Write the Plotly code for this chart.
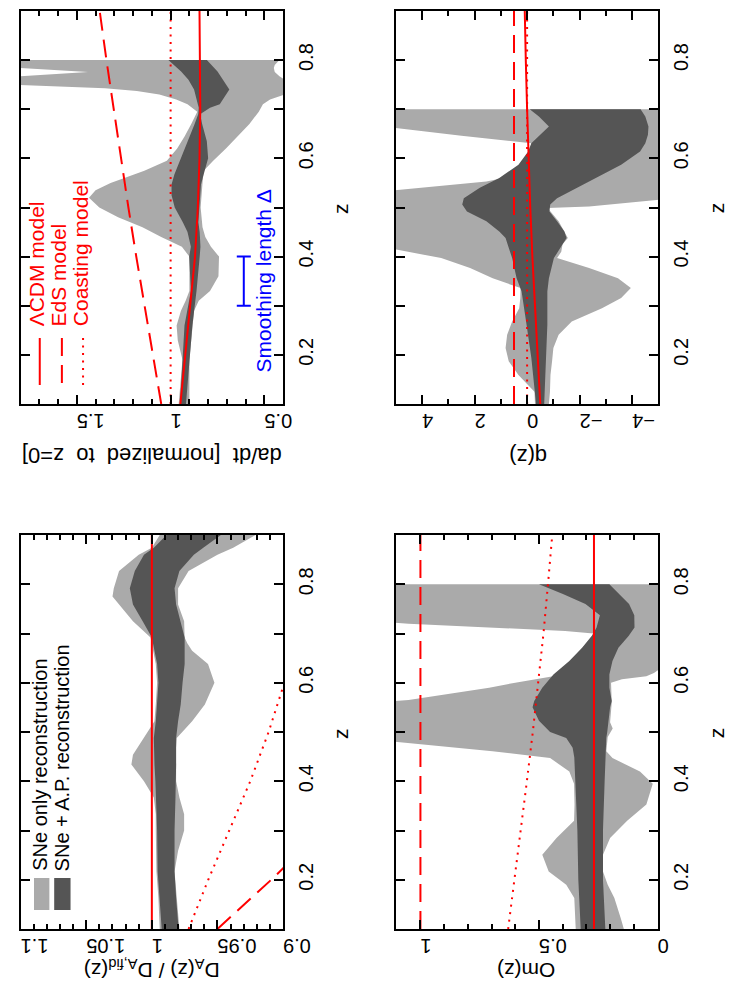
import plotly.graph_objects as go

W, H = 741, 982
FONT = "Liberation Sans, Arial, Helvetica, sans-serif"
LIGHT = "#aaaaaa"
DARK = "#555555"
RED = "#ff0000"
BLUE = "#0000ff"

# ---------------- da/dt panel ----------------
z_adot_sn = [0.10, 0.15, 0.19, 0.23, 0.26, 0.29, 0.31, 0.33, 0.36, 0.40, 0.42, 0.44, 0.46, 0.48,
             0.50, 0.52, 0.535, 0.55, 0.575, 0.595, 0.62, 0.645, 0.67, 0.695, 0.71, 0.72, 0.73,
             0.737, 0.743, 0.748, 0.755, 0.767, 0.776, 0.784, 0.79, 0.80]
adot_sn_hi = [0.957, 0.945, 0.937, 0.962, 0.968, 0.945, 0.92, 0.90, 0.90, 0.90, 0.94, 1.05, 1.15,
              1.28, 1.38, 1.435, 1.40, 1.32, 1.14, 1.02, 0.965, 0.925, 0.89, 0.858, 0.91, 0.97,
              1.06, 1.18, 1.35, 1.90, 2.20, 1.80, 1.44, 1.80, 2.20, 2.20]
adot_sn_lo = [0.90, 0.90, 0.90, 0.89, 0.884, 0.875, 0.85, 0.79, 0.745, 0.742, 0.785, 0.815, 0.83,
              0.835, 0.84, 0.835, 0.832, 0.83, 0.824, 0.773, 0.705, 0.64, 0.58, 0.53, 0.508, 0.47,
              0.39, 0.36, 0.35, 0.35, 0.37, 0.42, 0.445, 0.45, 0.445, 0.42]
z_adot_ap = [0.10, 0.19, 0.26, 0.33, 0.40, 0.42, 0.45, 0.47, 0.50, 0.525, 0.547, 0.567, 0.60,
             0.635, 0.67, 0.69, 0.703, 0.71, 0.74, 0.76, 0.777, 0.80]
adot_ap_hi = [0.950, 0.935, 0.926, 0.892, 0.901, 0.892, 0.91, 0.935, 0.978, 0.995, 0.995, 0.98,
              0.944, 0.909, 0.872, 0.853, 0.85, 0.855, 0.875, 0.905, 0.944, 1.012]
adot_ap_lo = [0.918, 0.90, 0.884, 0.862, 0.845, 0.841, 0.845, 0.852, 0.848, 0.842, 0.838, 0.824,
              0.80, 0.807, 0.832, 0.843, 0.79, 0.738, 0.687, 0.72, 0.75, 0.807]

z_models = [0.1, 0.2, 0.3, 0.4, 0.5, 0.6, 0.7, 0.8, 0.9]
adot_lcdm = [0.948, 0.922, 0.892, 0.870, 0.855, 0.846, 0.842, 0.843, 0.846]
adot_eds = [1.05, 1.095, 1.14, 1.183, 1.225, 1.265, 1.303, 1.342, 1.378]
adot_coast = [1.0, 1.0, 1.0, 1.0, 1.0, 1.0, 1.0, 1.0, 1.0]

smooth_z = [0.3, 0.4]
smooth_v = [0.61, 0.61]

# ---------------- q(z) panel ----------------
z_q_sn = [0.10, 0.125, 0.159, 0.187, 0.214, 0.241, 0.268, 0.295, 0.316, 0.336, 0.356, 0.377,
          0.397, 0.41, 0.425, 0.438, 0.472, 0.499, 0.502, 0.516, 0.534, 0.553, 0.56, 0.587,
          0.614, 0.631, 0.646, 0.662, 0.68, 0.70]
q_sn_hi = [-0.30, -0.28, 0.33, 0.70, 0.82, 0.76, 0.57, 0.30, 0.26, 0.25, 1.31, 2.17, 3.27, 4.5,
           6, 6, 6, 6, 6, 6, 5.2, 1.55, 0.9, 0.2, -0.1, -0.16, 2.5, 5.0, 6, 6]
q_sn_lo = [-0.83, -0.87, -0.89, -0.95, -1.0, -1.2, -1.7, -2.85, -3.58, -3.95, -3.46, -2.36, -1.14,
           -1.3, -1.35, -1.55, -1.2, -0.78, -2.36, -5.1, -6, -6, -6, -6, -6, -6, -6, -6, -6, -6]
z_q_ap = [0.10, 0.15, 0.194, 0.261, 0.329, 0.356, 0.397, 0.418, 0.438, 0.451, 0.472, 0.492,
          0.506, 0.519, 0.54, 0.56, 0.587, 0.614, 0.631, 0.648, 0.665, 0.685, 0.70]
q_ap_hi = [-0.34, -0.25, -0.16, 0.02, 0.21, 0.40, 0.57, 0.70, 0.82, 1.06, 1.55, 2.29, 2.47, 2.41,
           1.8, 1.06, 0.33, -0.04, -0.16, -0.5, -0.83, -0.45, -0.1]
q_ap_lo = [-0.65, -0.68, -0.71, -0.77, -0.77, -0.83, -1.02, -1.26, -1.5, -1.42, -1.14, -0.85,
           -0.88, -1.14, -1.9, -2.6, -3.58, -4.3, -4.5, -4.6, -4.62, -4.5, -4.32]
q_lcdm = [-0.50, -0.40, -0.29, -0.20, -0.12, -0.05, 0.0, 0.05, 0.09]
q_eds = [0.5, 0.5, 0.5, 0.5, 0.5, 0.5, 0.5, 0.5, 0.5]
q_coast = [0.0, 0.0, 0.0, 0.0, 0.0, 0.0, 0.0, 0.0, 0.0]

# ---------------- D_A ratio panel ----------------
z_da_sn = [0.10, 0.163, 0.217, 0.259, 0.30, 0.333, 0.367, 0.40, 0.434, 0.454, 0.488, 0.522, 0.556,
           0.60, 0.638, 0.665, 0.68, 0.692, 0.725, 0.759, 0.775, 0.792, 0.827, 0.86, 0.874, 0.90]
da_sn_hi = [0.994, 0.995, 0.9965, 0.997, 0.997, 0.997, 0.9985, 1.006, 1.0156, 1.0144, 1.006, 0.998,
            0.997, 0.996, 0.997, 0.999, 1.0, 1.001, 1.0144, 1.025, 1.03, 1.029, 1.025, 1.01, 1.0,
            0.994]
da_sn_lo = [0.979, 0.981, 0.9827, 0.980, 0.9754, 0.9754, 0.979, 0.9815, 0.9815, 0.982, 0.981,
            0.9693, 0.9596, 0.9523, 0.9572, 0.9693, 0.973, 0.975, 0.9754, 0.980, 0.980, 0.98,
            0.972, 0.95, 0.938, 0.921]
z_da_ap = [0.10, 0.163, 0.217, 0.30, 0.367, 0.40, 0.434, 0.488, 0.522, 0.556, 0.60, 0.638, 0.665,
           0.692, 0.725, 0.759, 0.792, 0.827, 0.86, 0.874, 0.90]
da_ap_hi = [0.9925, 0.994, 0.9956, 0.996, 0.9966, 0.9973, 0.998, 0.9985, 0.997, 0.996, 0.995, 0.996,
            0.998, 1.0, 1.007, 1.0144, 1.0168, 1.013, 1.006, 0.9985, 0.9888]
da_ap_lo = [0.9796, 0.9815, 0.9827, 0.9827, 0.982, 0.9815, 0.9815, 0.9815, 0.980, 0.978, 0.9766,
            0.975, 0.975, 0.975, 0.978, 0.9815, 0.9827, 0.979, 0.968, 0.9608, 0.9474]
da_lcdm = [1.0, 1.0, 1.0, 1.0, 1.0, 1.0, 1.0, 1.0, 1.0]
z_da_eds = [0.1, 0.2, 0.3]
da_eds = [0.95, 0.909, 0.87]
z_da_coast = [0.1, 0.2, 0.3, 0.4, 0.5, 0.6, 0.7]
da_coast = [0.972, 0.957, 0.941, 0.925, 0.911, 0.899, 0.888]

# ---------------- Om(z) panel ----------------
z_om_sn = [0.10, 0.122, 0.163, 0.19, 0.217, 0.251, 0.285, 0.32, 0.353, 0.395, 0.42, 0.447, 0.461,
           0.481, 0.49, 0.507, 0.52, 0.56, 0.565, 0.57, 0.58, 0.59, 0.60, 0.607, 0.613, 0.62,
           0.628, 0.65, 0.70, 0.705, 0.714, 0.72, 0.725, 0.80]
om_sn_hi = [0.345, 0.347, 0.351, 0.385, 0.459, 0.486, 0.426, 0.352, 0.35, 0.352, 0.372, 0.453,
            0.696, 1.12, 1.2, 1.2, 1.2, 1.2, 1.05, 0.98, 0.845, 0.71, 0.60, 0.52, 0.44, 0.42, 0.40,
            0.35, 0.27, 0.39, 0.80, 1.05, 1.2, 1.2]
om_sn_lo = [0.142, 0.155, 0.182, 0.21, 0.23, 0.23, 0.20, 0.128, 0.047, 0.02, 0.074, 0.19, 0.216,
            0.212, 0.21, 0.189, 0.20, 0.193, 0.195, 0.196, 0.196, 0.196, 0.196, 0.15, 0.047, 0.015,
            -0.01, -0.1, -0.1, -0.1, -0.1, -0.1, -0.1, -0.1]
z_om_ap = [0.10, 0.20, 0.30, 0.40, 0.448, 0.468, 0.488, 0.50, 0.523, 0.55, 0.563, 0.59, 0.617,
           0.644, 0.671, 0.695, 0.712, 0.737, 0.76, 0.78, 0.80]
om_ap_hi = [0.324, 0.334, 0.338, 0.345, 0.351, 0.358, 0.385, 0.453, 0.50, 0.527, 0.52, 0.486, 0.439,
            0.372, 0.318, 0.277, 0.257, 0.243, 0.304, 0.399, 0.50]
om_ap_lo = [0.22, 0.23, 0.23, 0.223, 0.22, 0.218, 0.216, 0.212, 0.205, 0.20, 0.193, 0.203, 0.203,
            0.19, 0.165, 0.122, 0.097, 0.098, 0.12, 0.16, 0.203]
om_lcdm = [0.268, 0.268, 0.268, 0.268, 0.268, 0.268, 0.268, 0.268, 0.268]
om_eds = [1.0, 1.0, 1.0, 1.0, 1.0, 1.0, 1.0, 1.0, 1.0]
om_coast = [0.63, 0.603, 0.577, 0.551, 0.526, 0.503, 0.481, 0.462, 0.444]


def px(x):
    return x / W


def py(y):
    return 1 - y / H


def band(z, lo, hi, color, n):
    return go.Scatter(x=list(hi) + list(lo[::-1]), y=list(z) + list(z[::-1]),
                      fill="toself", fillcolor=color, mode="lines", line=dict(width=0),
                      xaxis=f"x{n}", yaxis=f"y{n}", hoverinfo="skip", showlegend=False)


def model(z, v, dash, n):
    return go.Scatter(x=v, y=z, mode="lines", line=dict(color=RED, width=2, dash=dash),
                      xaxis=f"x{n}", yaxis=f"y{n}", hoverinfo="skip", showlegend=False)


SOLID, DASHED, DOTTED = "solid", "18px,9px", "2px,5.5px"

fig = go.Figure()

# panel 1: da/dt
fig.add_trace(band(z_adot_sn, adot_sn_lo, adot_sn_hi, LIGHT, 1))
fig.add_trace(band(z_adot_ap, adot_ap_lo, adot_ap_hi, DARK, 1))
fig.add_trace(model(z_models, adot_coast, DOTTED, 1))
fig.add_trace(model(z_models, adot_eds, DASHED, 1))
fig.add_trace(model(z_models, adot_lcdm, SOLID, 1))
fig.add_trace(go.Scatter(x=smooth_v, y=smooth_z, mode="lines+markers", xaxis="x1", yaxis="y1",
                         line=dict(color=BLUE, width=2),
                         marker=dict(symbol="line-ew", size=10, line=dict(color=BLUE, width=2)),
                         hoverinfo="skip", showlegend=False))

# panel 2: q(z)
fig.add_trace(band(z_q_sn, q_sn_lo, q_sn_hi, LIGHT, 2))
fig.add_trace(band(z_q_ap, q_ap_lo, q_ap_hi, DARK, 2))
fig.add_trace(model(z_models, q_coast, DOTTED, 2))
fig.add_trace(model(z_models, q_eds, DASHED, 2))
fig.add_trace(model(z_models, q_lcdm, SOLID, 2))

# panel 3: D_A ratio
fig.add_trace(band(z_da_sn, da_sn_lo, da_sn_hi, LIGHT, 3))
fig.add_trace(band(z_da_ap, da_ap_lo, da_ap_hi, DARK, 3))
fig.add_trace(model(z_da_coast, da_coast, DOTTED, 3))
fig.add_trace(model(z_da_eds, da_eds, DASHED, 3))
fig.add_trace(model(z_models, da_lcdm, SOLID, 3))

# panel 4: Om(z)
fig.add_trace(band(z_om_sn, om_sn_lo, om_sn_hi, LIGHT, 4))
fig.add_trace(band(z_om_ap, om_ap_lo, om_ap_hi, DARK, 4))
fig.add_trace(model(z_models, om_coast, DOTTED, 4))
fig.add_trace(model(z_models, om_eds, DASHED, 4))
fig.add_trace(model(z_models, om_lcdm, SOLID, 4))

xdom_l = [px(13), px(286)]
xdom_r = [px(403), px(676)]
ydom_t = [py(396), py(3)]
ydom_b = [py(921), py(527)]

panels = {
    1: (xdom_l, ydom_t, [1.8, 0.4], 0.5, 0.1),
    2: (xdom_r, ydom_t, [5.0, -5.0], 2, 1),
    3: (xdom_l, ydom_b, [1.1001, 0.8999], 0.05, 0.01),
    4: (xdom_r, ydom_b, [1.104, -0.004], 0.5, 0.1),
}

tickfont = dict(family=FONT, size=20, color="black")
layout = {}
for n, (xd, yd, xr, dt, mdt) in panels.items():
    layout[f"xaxis{n}"] = dict(
        domain=xd, anchor=f"y{n}", range=xr, autorange=False,
        showline=True, linecolor="black", linewidth=2, mirror="allticks",
        ticks="inside", ticklen=9, tickwidth=2, tickcolor="black",
        tick0=0, dtick=dt, tickangle=180, tickfont=tickfont, ticklabelstandoff=4,
        minor=dict(dtick=mdt, tick0=0, ticks="inside", ticklen=5, tickwidth=2, tickcolor="black"),
        showgrid=False, zeroline=False, fixedrange=True,
    )
    layout[f"yaxis{n}"] = dict(
        domain=yd, anchor=f"x{n}", range=[0.1, 0.9], autorange=False, side="right",
        showline=True, linecolor="black", linewidth=2, mirror="allticks",
        ticks="inside", ticklen=9, tickwidth=2, tickcolor="black",
        tickvals=[0.2, 0.4, 0.6, 0.8], ticktext=["0.2", "0.4", "0.6", "0.8"],
        tickangle=-90, tickfont=tickfont, ticklabelstandoff=4,
        minor=dict(tickvals=[0.3, 0.5, 0.7], ticks="inside", ticklen=9, tickwidth=2,
                   tickcolor="black"),
        showgrid=False, zeroline=False, fixedrange=True,
    )

ann = []


def text(x, y, s, angle, size=20, color="black", xa="center", ya="middle"):
    ann.append(dict(x=px(x), y=py(y), xref="paper", yref="paper", text=s, showarrow=False,
                    textangle=angle, xanchor=xa, yanchor=ya,
                    font=dict(family=FONT, size=size, color=color)))


# axis titles (upside down, as in the rotated page)
text(149, 447, "da/dt\u00a0\u00a0[normalized\u00a0\u00a0to\u00a0\u00a0z=0]", 180, 22)
text(541, 449, "q(z)", 180, 22)
text(149, 961, "D<sub>A</sub>(z)\u00a0/\u00a0D<sub>A,fid</sub>(z)", 180, 21)
text(539, 963, "Om(z)", 180, 21)
for zx in (345, 736):
    for zy in (200, 725):
        text(zx, zy, "z", -90, 21)

# legends
text(30, 320, "\u039bCDM model", -90, 21, RED, ya="bottom")
text(53, 320, "EdS model", -90, 21, RED, ya="bottom")
text(75, 320, "Coasting model", -90, 21, RED, ya="bottom")
text(266, 366, "Smoothing length \u0394", -90, 21, BLUE, ya="bottom")
text(33, 865, "SNe only reconstruction", -90, 20, "black", ya="bottom")
text(56, 865, "SNe + A.P. reconstruction", -90, 20, "black", ya="bottom")

shapes = []
for lx, dash in ((33, SOLID), (56, DASHED), (78, DOTTED)):
    shapes.append(dict(type="line", xref="paper", yref="paper", x0=px(lx), x1=px(lx),
                       y0=py(330), y1=py(377), line=dict(color=RED, width=2, dash=dash)))
shapes.append(dict(type="rect", xref="paper", yref="paper", x0=px(27), x1=px(43),
                   y0=py(902), y1=py(870), fillcolor=LIGHT, line=dict(width=0)))
shapes.append(dict(type="rect", xref="paper", yref="paper", x0=px(48), x1=px(65),
                   y0=py(902), y1=py(870), fillcolor=DARK, line=dict(width=0)))

fig.update_layout(
    width=W, height=H, margin=dict(l=0, r=0, t=0, b=0),
    paper_bgcolor="white", plot_bgcolor="white", showlegend=False,
    font=dict(family=FONT, size=20, color="black"),
    annotations=ann, shapes=shapes, **layout,
)

fig.write_html("out.html")
